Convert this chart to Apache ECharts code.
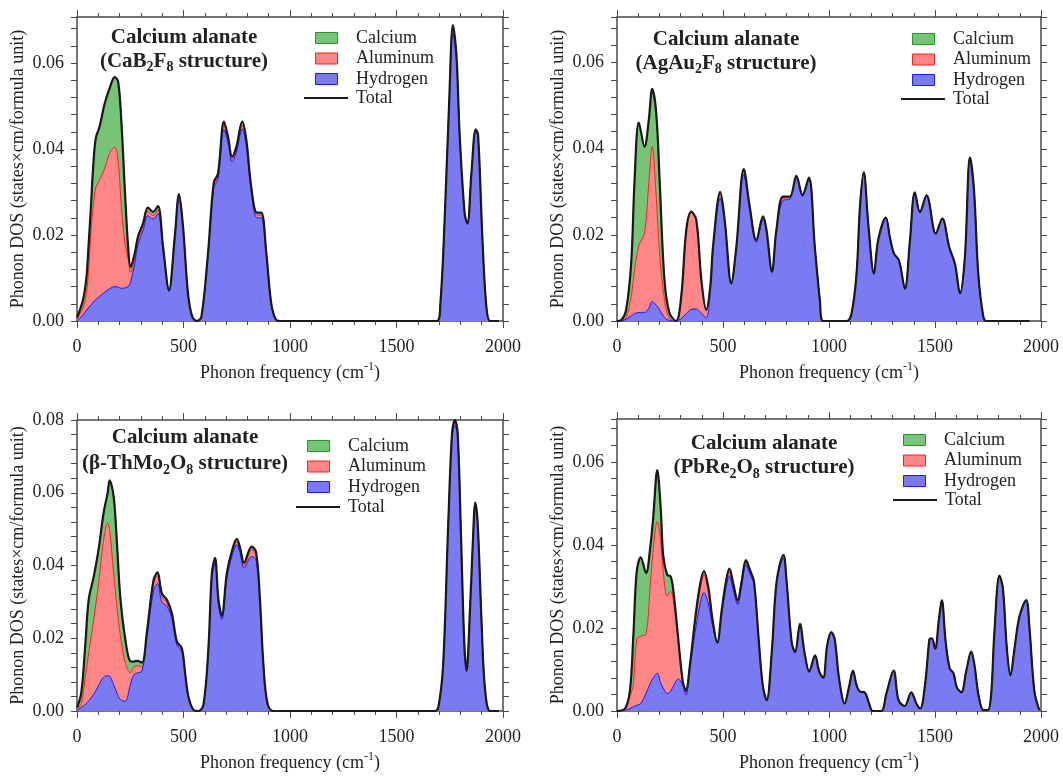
<!DOCTYPE html>
<html>
<head>
<meta charset="utf-8">
<script src="https://cdn.jsdelivr.net/npm/echarts@6/dist/echarts.min.js"></script>
<style>
  html, body { margin: 0; background: #fff; }
  #chart { width: 1063px; height: 776px; }
</style>
</head>
<body>
<div id="chart"></div>
<script>
// ---- data (phonon DOS, states*cm/formula unit) ----
// panel 1: CaB2F8 structure
const freq1 = [0,28,44,52,67,75,88,106,130,153,177,193,208,224,240,252,271,286,310,333,357,380,404,432,459,479,498,521,541,563,584,615,642,662,690,709,728,748,776,795,818,845,865,889,912,936,955,1690,1706,1726,1747,1765,1781,1797,1820,1833,1852,1872,1883,1903,1922,1940,1980]
const hyd1 = [.0001,.0014,.0025,.003,.0038,.0043,.005,.0057,.0067,.0075,.008,.0079,.0076,.0077,.008,.0091,.0134,.0178,.021,.0245,.0237,.025,.0163,.0068,.0188,.0283,.021,.0062,.001,0,.001,.015,.031,.033,.0445,.0415,.037,.0392,.0447,.0407,.030,.024,.024,.015,.0039,.0002,0,0,.004,.0233,.0498,.0668,.0608,.0422,.0247,.0224,.0342,.044,.0428,.0194,.0033,0,0]
const alu1 = [.0004,.0016,.0039,.007,.0181,.0217,.026,.0271,.0288,.0315,.0325,.0295,.019,.0108,.0065,.0022,.0014,.001,.001,.001,.0008,.0008,.0005,.0002,.0004,.0007,.0005,.0001,0,0,0,.0003,.0006,.0007,.001,.0007,.0006,.0006,.0009,.0007,.0006,.0006,.0006,.0004,.0001,0,0,0,0,.0002,.0005,.0012,.0008,.0004,.0002,.0002,.0002,.0003,.0003,.0001,0,0,0]
const cal1 = [.0003,.0019,.0036,.0057,.0061,.0091,.0115,.0124,.0151,.0151,.0162,.0183,.0201,.0127,.0028,.0013,.0009,.0008,.0007,.0009,.0009,.0009,.0005,.0002,.0004,.0005,.0004,.0001,0,0,0,.0004,.0006,.0006,.0009,.0007,.0006,.0007,.0008,.0007,.0006,.0006,.0006,.0003,.0001,0,0,0,0,0,.0003,.0008,.0006,.0003,.0001,.0001,.0002,.0003,.0002,.0001,0,0,0]

// panel 2: AgAu2F8 structure
const freq2 = [0,20,43,67,83,103,130,150,166,185,201,224,248,279,303,327,350,374,398,421,440,453,487,508,539,563,598,626,657,689,705,731,752,783,815,846,875,905,933,957,972,1083,1106,1130,1146,1164,1185,1212,1232,1268,1287,1306,1330,1358,1382,1405,1429,1460,1504,1534,1567,1594,1618,1641,1665,1684,1704,1728,1744,1945]
const hyd2 = [0,0,.0004,.0012,.0017,.002,.002,.003,.0045,.0037,.0026,.0008,.0001,0,.0006,.0017,.0027,.0028,.0018,.0008,.0072,.0165,.0285,.0228,.0085,.0167,.034,.0258,.0182,.0236,.0207,.0112,.0207,.028,.0283,.0332,.0289,.0329,.0171,.0048,0,0,.0017,.011,.0265,.0345,.0227,.011,.0188,.024,.0195,.0157,.0141,.0075,.0188,.0299,.0253,.0292,.0203,.0238,.0172,.0133,.0064,.0149,.038,.0304,.011,.001,0,0]
const alu2 = [0,.0001,.0004,.0045,.0103,.0155,.0185,.029,.036,.0252,.0132,.0041,.0004,0,.005,.0193,.0225,.0205,.0075,.0017,.0006,.0005,.001,.0004,.0002,.0003,.0008,.0004,.0003,.0004,.0003,.0001,.0003,.0005,.0003,.0003,.0002,.0002,.0001,0,0,0,0,0,0,0,0,0,0,0,0,0,0,0,0,0,0,0,0,0,0,0,0,0,0,0,0,0,0,0]
const cal2 = [0,.0001,.0018,.0078,.0208,.0286,.02,.0147,.0134,.0194,.017,.0046,.0013,0,.0001,.0002,.0002,.0002,.0002,.0001,.0002,.0003,.0005,.0003,.0001,.0003,.0005,.0004,.0003,.0003,.0002,.0002,.0002,.0004,.0003,.0002,.0002,.0002,.0001,0,0,0,0,0,0,0,0,0,0,0,0,0,0,0,0,0,0,0,0,0,0,0,0,0,0,0,0,0,0,0]

// panel 3: beta-ThMo2O8 structure
const freq3 = [0,20,39,55,78,101,125,144,153,172,188,203,226,250,265,281,305,328,359,378,398,422,445,469,492,508,523,547,570,594,617,633,648,664,680,703,727,750,766,784,820,841,859,875,894,922,1680,1697,1719,1742,1761,1774,1787,1802,1818,1829,1845,1861,1869,1881,1900,1916,1940,1980]
const hyd3 = [.0001,.001,.0018,.0028,.0045,.007,.0093,.0097,.0096,.0072,.0049,.0032,.0027,.0071,.0098,.0104,.011,.020,.033,.035,.030,.0288,.0255,.0181,.0163,.0096,.0038,.0003,0,.0018,.0167,.0363,.0405,.0295,.0252,.0363,.0425,.0457,.0432,.0393,.0425,.0415,.0293,.0125,.0022,0,0,.0012,.0126,.0492,.0752,.0785,.0752,.0492,.0187,.0109,.0275,.0493,.0565,.0511,.0232,.0058,0,0]
const alu3 = [.0004,.001,.0075,.0132,.0205,.028,.0377,.042,.0404,.0308,.0236,.0178,.0108,.0034,.0022,.0021,.0012,.001,.002,.0022,.0015,.0009,.0007,.0005,.0005,.0003,.0001,0,0,0,.0003,.0007,.0008,.0005,.0005,.0007,.0007,.0008,.0008,.0007,.0018,.0013,.0007,.0002,0,0,0,0,.0001,.0005,.0008,.0009,.0008,.0005,.0002,.0001,.0002,.0004,.0005,.0004,.0002,0,0,0]
const cal3 = [.0004,.003,.0089,.0146,.0118,.0093,.0075,.0083,.0134,.021,.0172,.0105,.0065,.0032,.0016,.0013,.0011,.0007,.0009,.0009,.0009,.0009,.0008,.0005,.0005,.0003,.0001,0,0,0,.0003,.0007,.0008,.0006,.0005,.0007,.0007,.0008,.0008,.0008,.0009,.0008,.0006,.0002,0,0,0,0,.0001,.0003,.0006,.0006,.0006,.0003,.0001,.0001,.0002,.0003,.0003,.0003,.0001,0,0,0]

// panel 4: PbRe2O8 structure
const freq4 = [0,38,61,77,93,112,137,156,171,190,206,218,237,253,266,289,310,325,344,368,392,410,431,451,473,494,514,530,549,569,588,608,627,646,667,687,706,730,753,785,800,824,840,863,884,907,934,954,973,991,1011,1027,1047,1074,1094,1113,1129,1145,1168,1189,1207,1247,1270,1305,1328,1357,1388,1412,1430,1455,1474,1485,1501,1518,1532,1550,1569,1587,1603,1624,1647,1671,1686,1707,1729,1749,1765,1780,1804,1820,1839,1856,1875,1898,1930,1945,1969,1992]
const hyd4 = [0,.0002,.0006,.001,.0014,.0018,.0043,.0065,.008,.0091,.0068,.0055,.0042,.0048,.006,.0077,.0062,.0038,.0103,.0188,.0258,.0285,.0258,.0204,.0163,.0235,.0296,.0325,.029,.0256,.030,.0352,.033,.0305,.0178,.0063,.0026,.014,.0307,.0368,.0306,.0162,.014,.0206,.014,.0094,.0132,.0094,.008,.0155,.0187,.017,.008,.0018,.0057,.0097,.0064,.0047,.0045,.0018,0,0,.0041,.0097,.0026,.0012,.0045,.0018,.0006,.0072,.0173,.0175,.015,.0219,.0267,.0168,.0103,.0091,.0057,.0045,.0095,.0143,.0111,.0033,.0002,.0002,.0041,.0188,.0326,.0297,.015,.0086,.015,.0227,.0267,.0204,.0047,.0002]
const alu4 = [0,.0003,.0029,.0054,.0159,.0162,.0142,.0232,.031,.0365,.0342,.0281,.0235,.024,.0206,.0088,.0006,.0007,.0005,.0024,.0034,.0043,.0027,.0006,.0001,.0005,.0009,.001,.0008,.0004,.0006,.0006,.0005,.0003,.0002,.0001,0,.0001,.0003,.0005,.0003,.0002,.0001,.0002,.0001,.0001,.0001,.0001,0,.0001,.0002,.0002,0,0,0,0,0,0,0,0,0,0,0,0,0,0,0,0,0,0,0,0,0,0,0,0,0,0,0,0,0,0,0,0,0,0,0,0,0,0,0,0,0,0,0,0,0,0]
const cal4 = [0,.0001,.0014,.0116,.0163,.019,.0147,.0093,.0077,.0124,.008,.0038,.0051,.0036,.0023,.0008,.0004,.0004,.0003,.0007,.0013,.0009,.0012,.0009,.0001,.0003,.0007,.0008,.0007,.0006,.0006,.0005,.0005,.0004,.0001,0,0,.0001,.0002,.0003,.0003,.0001,.0001,.0002,.0001,0,.0001,0,0,.0001,.0001,.0001,0,0,0,0,0,0,0,0,0,0,0,0,0,0,0,0,0,0,0,0,0,0,0,0,0,0,0,0,0,0,0,0,0,0,0,0,0,0,0,0,0,0,0,0,0,0]

const xTicks = [0, 500, 1000, 1500, 2000]

// ---- styling ----
const FONT = 'Liberation Serif'
const INK = '#222'
const FRAME = '#4a4a4a'
const COLORS = {
  Hydrogen: { fill: '#7a7af2', edge: '#1a1aff' },
  Aluminum: { fill: '#ff8686', edge: '#ff2020' },
  Calcium: { fill: '#76c476', edge: '#229922' },
}

const panels = [
  { freq: freq1, hyd: hyd1, alu: alu1, cal: cal1, ymax: 0.0707,
    grid: { left: 77, top: 17, width: 426, height: 304 },
    title: { x: 184, y1: 38, y2: 61.5, formula: '(CaB{s|2}F{s|8} structure)' },
    legend: { left: 315, top: 28, lineLeft: 304, lineTop: 88 } },
  { freq: freq2, hyd: hyd2, alu: alu2, cal: cal2, ymax: 0.0706,
    grid: { left: 617, top: 17, width: 424, height: 304 },
    title: { x: 726, y1: 40, y2: 63.5, formula: '(AgAu{s|2}F{s|8} structure)' },
    legend: { left: 912, top: 29, lineLeft: 901, lineTop: 89 } },
  { freq: freq3, hyd: hyd3, alu: alu3, cal: cal3, ymax: 0.08,
    grid: { left: 77, top: 420, width: 426, height: 302 },
    title: { x: 185, y1: 438, y2: 464, formula: '(β-ThMo{s|2}O{s|8} structure)' },
    legend: { left: 307, top: 436, lineLeft: 296, lineTop: 497 } },
  { freq: freq4, hyd: hyd4, alu: alu4, cal: cal4, ymax: 0.0703,
    grid: { left: 617, top: 419, width: 424, height: 302 },
    title: { x: 764, y1: 443.5, y2: 468, formula: '(PbRe{s|2}O{s|8} structure)' },
    legend: { left: 903, top: 430, lineLeft: 893, lineTop: 490 } },
]

panels.forEach((p, i) => {
  const n = p.freq.length
  if (p.hyd.length !== n || p.alu.length !== n || p.cal.length !== n) {
    throw new Error('panel ' + (i + 1) + ' length mismatch ' + [n, p.hyd.length, p.alu.length, p.cal.length].join(','))
  }
})

const tickLine = { color: FRAME, width: 1 }
const labelFont = { fontFamily: FONT, fontSize: 18, color: INK }

const grids = []
const xAxes = []
const yAxes = []
const series = []
const legends = []
const graphics = []

panels.forEach((p, i) => {
  grids.push(Object.assign({ containLabel: false }, p.grid))

  // bottom and top frequency axes
  xAxes.push({
    gridIndex: i, type: 'value', position: 'bottom', min: 0, max: 2000, interval: 500,
    axisLine: { onZero: false, lineStyle: { color: FRAME, width: 1.5 } },
    axisTick: { length: 7, lineStyle: tickLine },
    minorTick: { show: true, splitNumber: 5, length: 4, lineStyle: tickLine },
    splitLine: { show: false },
    axisLabel: Object.assign({ margin: 17, formatter: (v) => (xTicks.indexOf(v) >= 0 ? String(v) : '') }, labelFont),
    name: 'Phonon frequency (cm{sup|-1})',
    nameLocation: 'middle', nameGap: 40,
    nameTextStyle: {
      fontFamily: FONT, fontSize: 18, color: INK, lineHeight: 24,
      rich: { sup: { fontFamily: FONT, fontSize: 12, color: INK, lineHeight: 12, verticalAlign: 'top' } },
    },
  })
  xAxes.push({
    gridIndex: i, type: 'value', position: 'top', min: 0, max: 2000, interval: 500,
    axisLine: { onZero: false, lineStyle: { color: FRAME, width: 1.5 } },
    axisTick: { length: 7, lineStyle: tickLine },
    minorTick: { show: true, splitNumber: 5, length: 4, lineStyle: tickLine },
    splitLine: { show: false },
    axisLabel: { show: false },
  })

  // left and right DOS axes
  yAxes.push({
    gridIndex: i, type: 'value', position: 'left', min: 0, max: p.ymax, interval: 0.004,
    axisLine: { onZero: false, lineStyle: { color: FRAME, width: 1.5 } },
    axisTick: { length: 6, lineStyle: tickLine },
    splitLine: { show: false },
    axisLabel: Object.assign({
      margin: 13,
      formatter: (v) => (Math.abs(v / 0.02 - Math.round(v / 0.02)) < 1e-6 ? v.toFixed(2) : ''),
    }, labelFont),
    name: 'Phonon DOS (states×cm/formula unit)',
    nameLocation: 'middle', nameGap: 50,
    nameTextStyle: { fontFamily: FONT, fontSize: 18, color: INK },
  })
  yAxes.push({
    gridIndex: i, type: 'value', position: 'right', min: 0, max: p.ymax, interval: 0.004,
    axisLine: { onZero: false, lineStyle: { color: FRAME, width: 1.5 } },
    axisTick: { length: 6, lineStyle: tickLine },
    splitLine: { show: false },
    axisLabel: { show: false },
  })

  // cumulative boundaries: H, H+Al, H+Al+Ca (= total); drawn back to front with opaque fills
  const hTop = p.hyd.map((v) => v)
  const alTop = p.hyd.map((v, k) => +(v + p.alu[k]).toFixed(5))
  const caTop = p.hyd.map((v, k) => +(v + p.alu[k] + p.cal[k]).toFixed(5))
  const layers = [['Calcium', caTop], ['Aluminum', alTop], ['Hydrogen', hTop]]
  layers.forEach(([name, vals], li) => {
    series.push({
      name, type: 'line', xAxisIndex: 2 * i, yAxisIndex: 2 * i,
      smooth: 0.35, symbol: 'none', silent: true, z: 2 + li,
      lineStyle: { color: COLORS[name].edge, width: 1 },
      itemStyle: { color: COLORS[name].fill },
      areaStyle: { color: COLORS[name].fill, opacity: 1, origin: 'start' },
      data: p.freq.map((f, k) => [f, vals[k]]),
    })
  })
  series.push({
    name: 'Total', type: 'line', xAxisIndex: 2 * i, yAxisIndex: 2 * i,
    smooth: 0.35, symbol: 'none', silent: true, z: 6,
    lineStyle: { color: '#1a1a1a', width: 2.2, join: 'round' },
    itemStyle: { color: '#1a1a1a' },
    data: p.freq.map((f, k) => [f, caTop[k]]),
  })

  // legends: shaded swatches, then the total line
  legends.push({
    orient: 'vertical', left: p.legend.left, top: p.legend.top, padding: 0, itemGap: 0.5,
    itemWidth: 22, itemHeight: 11, selectedMode: false,
    textStyle: { fontFamily: FONT, fontSize: 18, color: INK, lineHeight: 20, padding: [0, 0, 0, 13.5] },
    data: ['Calcium', 'Aluminum', 'Hydrogen'].map((nm) => ({
      name: nm, icon: 'rect',
      itemStyle: { color: COLORS[nm].fill, borderColor: COLORS[nm].edge, borderWidth: 1 },
    })),
  })
  legends.push({
    orient: 'vertical', left: p.legend.lineLeft, top: p.legend.lineTop, padding: 0,
    itemWidth: 44, itemHeight: 2, selectedMode: false,
    textStyle: { fontFamily: FONT, fontSize: 18, color: INK, lineHeight: 20, padding: [0, 0, 0, 3] },
    data: [{ name: 'Total', icon: 'rect', itemStyle: { color: '#1a1a1a', borderWidth: 0 } }],
  })

  // panel title (two lines, second with subscripts)
  graphics.push({
    type: 'text', x: p.title.x, y: p.title.y1, silent: true, z: 20,
    style: {
      text: 'Calcium alanate', fontFamily: FONT, fontSize: 21, fontWeight: 'bold', fill: INK,
      align: 'center', verticalAlign: 'middle',
    },
  })
  graphics.push({
    type: 'text', x: p.title.x, y: p.title.y2, silent: true, z: 20,
    style: {
      text: p.title.formula, fontFamily: FONT, fontSize: 21, fontWeight: 'bold', fill: INK,
      lineHeight: 26, align: 'center', verticalAlign: 'middle',
      rich: { s: { fontFamily: FONT, fontSize: 14, fontWeight: 'bold', fill: INK, lineHeight: 14, verticalAlign: 'bottom' } },
    },
  })
})

const chart = echarts.init(document.getElementById('chart'), null, { renderer: 'canvas' })
chart.setOption({
  animation: false,
  backgroundColor: '#fff',
  grid: grids,
  xAxis: xAxes,
  yAxis: yAxes,
  legend: legends,
  series,
  graphic: graphics,
})
</script>
</body>
</html>
